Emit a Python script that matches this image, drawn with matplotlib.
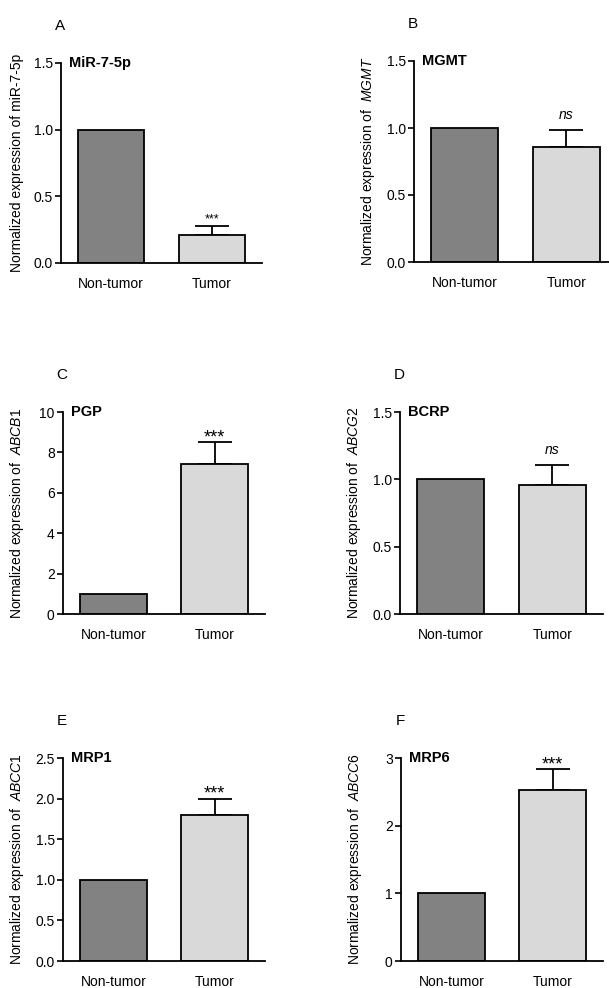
import matplotlib
matplotlib.use('Agg')
import matplotlib.pyplot as plt

plt.rcParams['font.family'] = ['Liberation Sans', 'DejaVu Sans']
plt.rcParams['mathtext.fontset'] = 'custom'
plt.rcParams['mathtext.rm'] = 'Liberation Sans'
plt.rcParams['mathtext.it'] = 'Liberation Sans:italic'

groups = ['Non-tumor', 'Tumor']
letters = ['A', 'B', 'C', 'D', 'E', 'F']
titles = ['MiR-7-5p', 'MGMT', 'PGP', 'BCRP', 'MRP1', 'MRP6']
genes = ['miR-7-5p', 'MGMT', 'ABCB1', 'ABCG2', 'ABCC1', 'ABCC6']
nontumor = [1.0, 1.0, 1.0, 1.0, 1.0, 1.0]
tumor = [0.21, 0.855, 7.45, 0.96, 1.80, 2.53]
tumor_err = [0.065, 0.13, 1.05, 0.145, 0.20, 0.31]
signif = ['***', 'ns', '***', 'ns', '***', '***']
ymax = [1.5, 1.5, 10, 1.5, 2.5, 3]
ystep = [0.5, 0.5, 2, 0.5, 0.5, 1]

W, H = 609, 988
# axes boxes in pixels: left, top, right, bottom
boxes = [(61, 63, 262, 263), (414, 61, 617, 262),
         (63, 412, 265, 614), (400, 412, 603, 614),
         (63, 758, 265, 961), (401, 758, 603, 961)]

fig = plt.figure(figsize=(W/100, H/100), dpi=100)

for i in range(6):
    l, t, r, b = boxes[i]
    ax = fig.add_axes([l/W, 1-b/H, (r-l)/W, (b-t)/H])
    ax.bar([0, 1], [nontumor[i], tumor[i]], width=0.66,
           color=['#828282', '#d9d9d9'], edgecolor='black', linewidth=1.3, zorder=2)
    ax.errorbar([1], [tumor[i]], yerr=[[0], [tumor_err[i]]], fmt='none',
                ecolor='black', elinewidth=1.3, capsize=12, capthick=1.3, zorder=1)
    ax.set_xlim(-0.5, 1.5)
    ax.set_ylim(0, ymax[i])
    n = int(round(ymax[i]/ystep[i]))
    ticks = [k*ystep[i] for k in range(n+1)]
    ax.set_yticks(ticks)
    if ystep[i] < 1:
        ax.set_yticklabels(['%.1f' % v for v in ticks])
    else:
        ax.set_yticklabels(['%d' % v for v in ticks])
    ax.set_xticks([0, 1])
    ax.set_xticklabels(groups)
    ax.tick_params(axis='x', length=0, pad=10, labelsize=10)
    ax.tick_params(axis='y', length=4, width=1.2, pad=2, labelsize=10)
    for s in ['top', 'right']:
        ax.spines[s].set_visible(False)
    for s in ['left', 'bottom']:
        ax.spines[s].set_linewidth(1.3)
    if i == 0:
        ax.set_ylabel('Normalized expression of ' + genes[i], fontsize=10)
    else:
        ax.set_ylabel('Normalized expression of  $\\it{' + genes[i] + '}$', fontsize=10)
    ax.yaxis.set_label_coords(-37/(r-l), 0.5)
    ax.text(0.04, 1.0, titles[i], transform=ax.transAxes, fontsize=10.5,
            fontweight='bold', va='center', ha='left')
    top = tumor[i] + tumor_err[i]
    if signif[i] == 'ns':
        ax.annotate('ns', (1, top), xytext=(0, 6), textcoords='offset points',
                    ha='center', va='bottom', fontsize=10, style='italic')
    else:
        fs = 9 if i == 0 else 13
        ax.annotate('***', (1, top), xytext=(0, -3 if i else 1), textcoords='offset points',
                    ha='center', va='bottom', fontsize=fs)
    fig.text((l - 1)/W, 1 - (t - 37)/H, letters[i], fontsize=11, ha='center', va='center')

fig.savefig('out.png', dpi=100)
